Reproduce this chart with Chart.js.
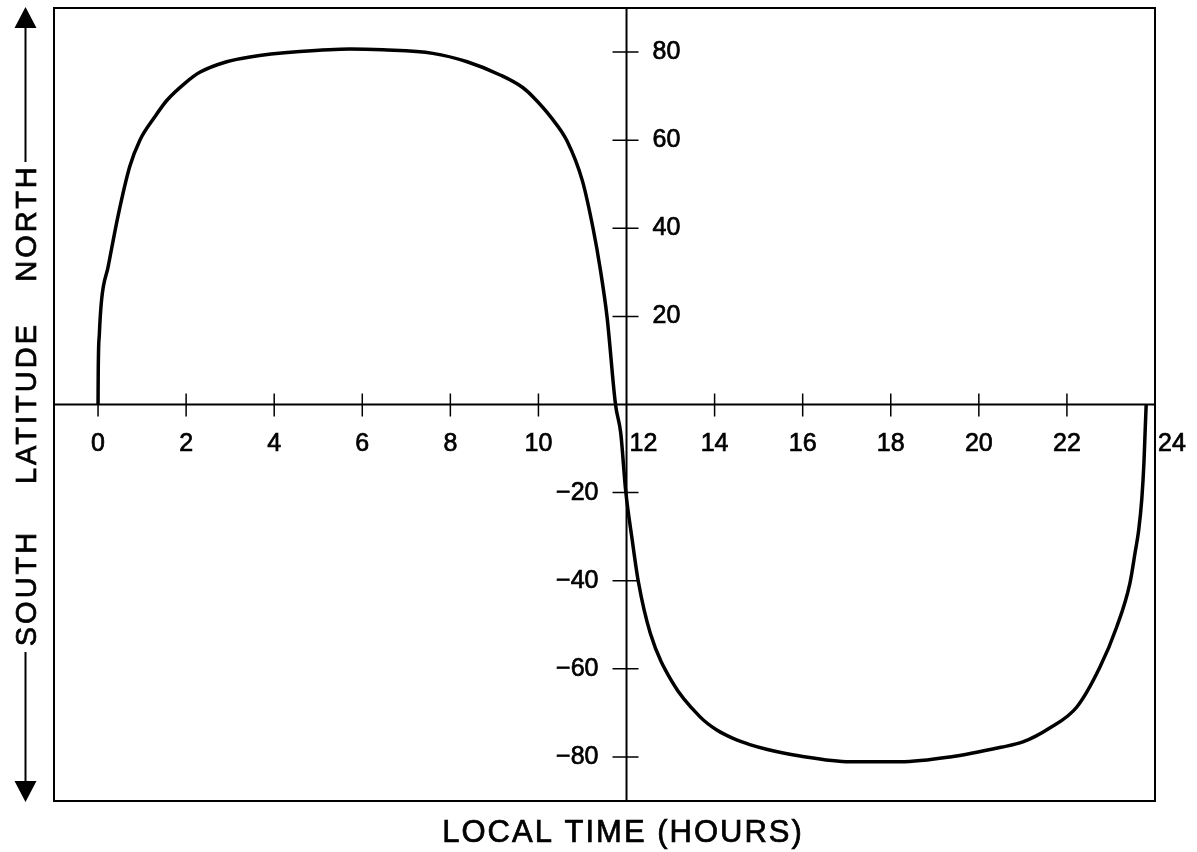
<!DOCTYPE html>
<html>
<head>
<meta charset="utf-8">
<script src="https://cdn.jsdelivr.net/npm/chart.js@4.4.1/dist/chart.umd.min.js"></script>
<style>
  body { margin: 0; background: #fff; }
  #wrap { width: 1197px; height: 852px; position: relative; }
</style>
</head>
<body>
<div id="wrap"><canvas id="chart"></canvas></div>
<script>
// local time (hours) and latitude (deg)
let hours = [0, 0.005, 0.03, 0.08, 0.23, 0.45, 0.72, 0.95, 1.29, 1.56, 1.97, 2.31, 2.92, 3.45, 4.58, 5.72, 6.47, 7.6, 8.38, 9.13, 9.65, 9.88, 10.3, 10.65, 11.0, 11.24, 11.4, 11.56, 11.75, 11.87, 11.98, 12.13, 12.27, 12.54, 13.05, 13.67, 14.05, 14.42, 14.8, 15.2, 15.94, 17.08, 18.21, 19.35, 20.5, 21.0, 21.6, 22.23, 22.75, 23.13, 23.43, 23.55, 23.63, 23.7, 23.75, 23.78, 23.8];
let latitude = [0, 8, 16, 23.7, 31.3, 42.6, 54, 60, 65.3, 69, 72.9, 75.4, 77.8, 78.9, 80.1, 80.7, 80.5, 79.7, 77.8, 74.8, 71.9, 69.8, 65, 59.8, 50.7, 40, 31, 19.7, 0, -6.6, -19.5, -30.8, -40.3, -51.9, -63.2, -70.9, -73.9, -75.8, -77.2, -78.3, -79.8, -81.1, -81.1, -80, -77.8, -76.6, -73.5, -68.6, -59.6, -50.5, -40.6, -33.5, -28.5, -21.5, -13, -5, 0];

let xTicks = [0, 2, 4, 6, 8, 10, 12, 14, 16, 18, 20, 22, 24];
let yTicks = [80, 60, 40, 20, -20, -40, -60, -80];
let xTitle = "LOCAL TIME (HOURS)";
let yTitles = ["SOUTH", "LATITUDE", "NORTH"];

let points = hours.map((h, i) => ({ x: h, y: latitude[i] }));

let fontName = "'Liberation Sans', Arial, sans-serif";

// text a little heavier, like the printed original
function inkText(ctx, s, x, y) {
  ctx.fillText(s, x, y);
  ctx.strokeText(s, x, y);
}

let axesPlugin = {
  id: "axes",
  beforeDatasetsDraw(chart) {
    let ctx = chart.ctx;
    let a = chart.chartArea;
    let xs = chart.scales.x;
    let ys = chart.scales.y;
    let x0 = xs.getPixelForValue(12);
    let y0 = ys.getPixelForValue(0);

    ctx.save();
    ctx.strokeStyle = "#000";
    ctx.lineWidth = 2;
    ctx.strokeRect(a.left, a.top, a.right - a.left, a.bottom - a.top);

    ctx.beginPath();
    ctx.moveTo(a.left, y0);
    ctx.lineTo(a.right, y0);
    ctx.moveTo(x0, a.top);
    ctx.lineTo(x0, a.bottom);
    ctx.stroke();

    ctx.lineWidth = 1.5;
    ctx.beginPath();
    xTicks.forEach(t => {
      if (t === 12 || t === 24) return;
      let px = xs.getPixelForValue(t);
      ctx.moveTo(px, y0 - 11);
      ctx.lineTo(px, y0 + 12);
    });
    yTicks.forEach(t => {
      let py = ys.getPixelForValue(t);
      ctx.moveTo(x0 - 14, py);
      ctx.lineTo(x0 + 12, py);
    });
    ctx.stroke();
    ctx.restore();
  },
  afterDraw(chart) {
    let ctx = chart.ctx;
    let xs = chart.scales.x;
    let ys = chart.scales.y;
    let x0 = xs.getPixelForValue(12);
    let y0 = ys.getPixelForValue(0);

    ctx.save();
    ctx.fillStyle = "#000";
    ctx.strokeStyle = "#000";
    ctx.lineWidth = 0.7;
    ctx.font = "25px " + fontName;
    ctx.textBaseline = "middle";

    xTicks.forEach(t => {
      let px = xs.getPixelForValue(t);
      if (t === 12 || t === 24) {
        ctx.textAlign = "left";
        inkText(ctx, String(t), px + 3, y0 + 40);
      } else {
        ctx.textAlign = "center";
        inkText(ctx, String(t), px, y0 + 40);
      }
    });

    yTicks.forEach(t => {
      let py = ys.getPixelForValue(t);
      if (t > 0) {
        ctx.textAlign = "left";
        inkText(ctx, String(t), x0 + 26, py);
      } else {
        ctx.textAlign = "right";
        inkText(ctx, "\u2212" + Math.abs(t), x0 - 28, py);
      }
    });

    // bottom title
    ctx.font = "31px " + fontName;
    ctx.letterSpacing = "2px";
    ctx.textAlign = "center";
    ctx.textBaseline = "alphabetic";
    inkText(ctx, xTitle, 623, 842);

    // left title, rotated
    ctx.font = "29px " + fontName;
    ctx.letterSpacing = "3px";
    let centres = [588, 403, 223];
    yTitles.forEach((s, i) => {
      ctx.save();
      ctx.translate(36, centres[i]);
      ctx.rotate(-Math.PI / 2);
      inkText(ctx, s, 0, 0);
      ctx.restore();
    });
    ctx.letterSpacing = "0px";

    // arrows
    let ax = 25.5;
    ctx.lineWidth = 2;
    ctx.beginPath();
    ctx.moveTo(ax, 26);
    ctx.lineTo(ax, 162);
    ctx.moveTo(ax, 652);
    ctx.lineTo(ax, 784);
    ctx.stroke();
    ctx.beginPath();
    ctx.moveTo(ax, 7);
    ctx.lineTo(ax - 11, 28);
    ctx.lineTo(ax + 11, 28);
    ctx.closePath();
    ctx.moveTo(ax, 802);
    ctx.lineTo(ax - 11, 781);
    ctx.lineTo(ax + 11, 781);
    ctx.closePath();
    ctx.fill();
    ctx.restore();
  }
};

new Chart("chart", {
  type: "scatter",
  data: {
    datasets: [
      {
        data: points,
        showLine: true,
        borderColor: "#000",
        borderWidth: 3.5,
        pointRadius: 0,
        cubicInterpolationMode: "monotone",
      },
    ],
  },
  options: {
    responsive: true,
    maintainAspectRatio: false,
    animation: false,
    layout: { padding: { left: 54, right: 42, top: 8, bottom: 51 } },
    plugins: { legend: { display: false }, tooltip: { enabled: false } },
    scales: {
      x: { type: "linear", min: -1, max: 24, display: false },
      y: { min: -90, max: 90, display: false },
    },
  },
  plugins: [axesPlugin],
});
</script>
</body>
</html>
